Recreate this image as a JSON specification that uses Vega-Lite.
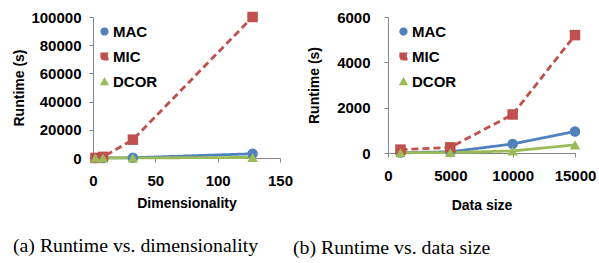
{
  "$schema": "https://vega.github.io/schema/vega-lite/v6.json",
  "background": "white",
  "padding": {"left": 12, "top": 10, "right": 2, "bottom": 2},
  "bounds": "flush",
  "spacing": 108,
  "config": {
    "view": {"stroke": null},
    "font": "Liberation Sans",
    "axis": {
      "grid": false,
      "domainColor": "#868686",
      "tickColor": "#868686",
      "tickSize": 4,
      "labelFont": "Liberation Sans",
      "labelFontWeight": "bold",
      "labelFontSize": 15,
      "labelColor": "#000",
      "labelOverlap": false,
      "labelFlush": false,
      "format": "d",
      "titleFont": "Liberation Sans",
      "titleFontWeight": "bold",
      "titleFontSize": 14,
      "titleColor": "#000"
    },
    "axisX": {"labelPadding": 11},
    "legend": {
      "labelFont": "Liberation Sans",
      "labelFontWeight": "bold",
      "labelFontSize": 15,
      "labelColor": "#000",
      "symbolSize": 45,
      "rowPadding": 9,
      "labelOffset": 1
    },
    "title": {
      "font": "Liberation Serif",
      "fontSize": 19.8,
      "fontWeight": "normal",
      "color": "#000",
      "anchor": "start",
      "frame": "group",
      "orient": "bottom"
    }
  },
  "datasets": {
    "dim": [
      {"d": 2, "method": "MAC", "t": 5},
      {"d": 8, "method": "MAC", "t": 20},
      {"d": 32, "method": "MAC", "t": 200},
      {"d": 128, "method": "MAC", "t": 3000},
      {"d": 2, "method": "MIC", "t": 50},
      {"d": 8, "method": "MIC", "t": 800},
      {"d": 32, "method": "MIC", "t": 13000},
      {"d": 128, "method": "MIC", "t": 100000},
      {"d": 2, "method": "DCOR", "t": 1},
      {"d": 8, "method": "DCOR", "t": 5},
      {"d": 32, "method": "DCOR", "t": 60},
      {"d": 128, "method": "DCOR", "t": 400}
    ],
    "size": [
      {"n": 1000, "method": "MAC", "t": 20},
      {"n": 5000, "method": "MAC", "t": 50},
      {"n": 10000, "method": "MAC", "t": 400},
      {"n": 15000, "method": "MAC", "t": 950},
      {"n": 1000, "method": "MIC", "t": 150},
      {"n": 5000, "method": "MIC", "t": 250},
      {"n": 10000, "method": "MIC", "t": 1700},
      {"n": 15000, "method": "MIC", "t": 5200},
      {"n": 1000, "method": "DCOR", "t": 10},
      {"n": 5000, "method": "DCOR", "t": 20},
      {"n": 10000, "method": "DCOR", "t": 90},
      {"n": 15000, "method": "DCOR", "t": 360}
    ]
  },
  "hconcat": [
    {
      "width": 187,
      "height": 141,
      "title": {"text": "(a) Runtime vs. dimensionality", "dx": -80, "offset": 26},
      "data": {"name": "dim"},
      "encoding": {
        "x": {"field": "d", "type": "quantitative", "title": "Dimensionality",
              "scale": {"domain": [0, 150], "nice": false},
              "axis": {"values": [0, 50, 100, 150], "titlePadding": 8}},
        "y": {"field": "t", "type": "quantitative", "title": "Runtime (s)",
              "scale": {"domain": [0, 100000], "nice": false},
              "axis": {"values": [0, 20000, 40000, 60000, 80000, 100000], "labelPadding": 8, "titlePadding": 4}},
        "color": {"field": "method", "type": "nominal", "title": null,
                  "scale": {"domain": ["MAC", "MIC", "DCOR"], "range": ["#4F81BD", "#C0504D", "#9BBB59"]},
                  "legend": {"orient": "none", "legendX": 4, "legendY": 7, "padding": 0}}
      },
      "layer": [
        {
          "mark": {"type": "line", "strokeWidth": 2.8},
          "encoding": {
            "strokeDash": {"field": "method", "type": "nominal", "legend": null,
                           "scale": {"domain": ["MAC", "MIC", "DCOR"], "range": [[1, 0], [7, 4], [1, 0]]}}
          }
        },
        {
          "mark": {"type": "point", "filled": true, "size": 110, "opacity": 1},
          "encoding": {
            "shape": {"field": "method", "type": "nominal", "title": null,
                      "scale": {"domain": ["MAC", "MIC", "DCOR"], "range": ["circle", "square", "triangle-up"]}}
          }
        }
      ]
    },
    {
      "width": 187,
      "height": 136,
      "title": {"text": "(b) Runtime vs. data size", "dx": -95, "offset": 26},
      "data": {"name": "size"},
      "encoding": {
        "x": {"field": "n", "type": "quantitative", "title": "Data size",
              "scale": {"domain": [0, 15000], "nice": false},
              "axis": {"values": [0, 5000, 10000, 15000], "titlePadding": 15}},
        "y": {"field": "t", "type": "quantitative", "title": "Runtime (s)",
              "scale": {"domain": [0, 6000], "nice": false},
              "axis": {"values": [0, 2000, 4000, 6000], "labelPadding": 14, "titlePadding": 15}},
        "color": {"field": "method", "type": "nominal", "title": null,
                  "scale": {"domain": ["MAC", "MIC", "DCOR"], "range": ["#4F81BD", "#C0504D", "#9BBB59"]},
                  "legend": {"orient": "none", "legendX": 8, "legendY": 7, "padding": 0}}
      },
      "layer": [
        {
          "mark": {"type": "line", "strokeWidth": 2.8},
          "encoding": {
            "strokeDash": {"field": "method", "type": "nominal", "legend": null,
                           "scale": {"domain": ["MAC", "MIC", "DCOR"], "range": [[1, 0], [7, 4], [1, 0]]}}
          }
        },
        {
          "mark": {"type": "point", "filled": true, "size": 110, "opacity": 1},
          "encoding": {
            "shape": {"field": "method", "type": "nominal", "title": null,
                      "scale": {"domain": ["MAC", "MIC", "DCOR"], "range": ["circle", "square", "triangle-up"]}}
          }
        }
      ]
    }
  ],
  "resolve": {"scale": {"x": "independent", "y": "independent", "color": "independent", "shape": "independent", "strokeDash": "independent"}, "legend": {"color": "independent", "shape": "independent"}}
}
